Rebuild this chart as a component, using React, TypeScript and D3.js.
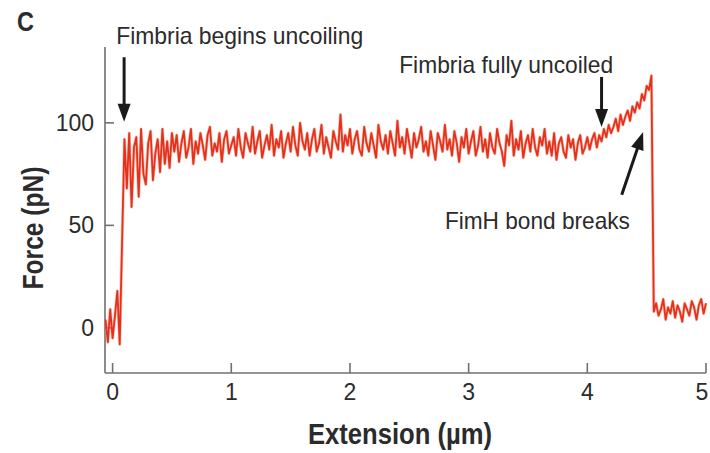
import * as d3 from 'd3'

const width = 710,
      height = 453

// force trace (pN), sampled every 0.02 µm starting at -0.06 µm
const traceStart = -0.06
const sampleStep = 0.02
const force = [
  4, -7, 9, -5, 6, 18, -8,
  42, 92,
  68, 95, 59, 88, 93, 64, 97, 75, 70, 90, 96, 72, 85, 92, 76, 97, 80, 91, 78, 95,
  86, 94, 81, 90, 96, 83, 88, 97, 80, 91, 85, 95, 89, 82, 94, 98, 84, 90, 86, 95, 81, 92, 96, 85, 89,
  93, 84, 97, 88, 83, 95, 90, 86, 98, 85,
  91, 96, 83, 89, 94, 87, 99, 84, 92, 88,
  96, 83, 90, 95, 86, 98, 89, 84, 100, 91,
  87, 95, 84, 92, 97, 86, 90, 99, 85, 93,
  88, 83, 96, 91, 87, 104, 86, 94, 89, 97,
  85, 92, 96, 87, 84, 98, 90, 86, 95, 89,
  83, 99, 91, 87, 94, 85, 96, 90, 84, 101,
  88, 93, 85, 97, 90, 83, 95, 88, 92, 98,
  86, 91, 84, 96, 89, 82, 95, 91, 86, 99,
  87, 92, 84, 96, 90, 81, 93, 88, 97, 85,
  91, 96, 84, 89, 98, 86, 92, 83, 95, 88,
  85, 97, 90, 86, 79, 94, 89, 101, 84, 92,
  87, 96, 83, 90, 94, 86, 97, 88, 84, 93,
  89, 97, 85, 91, 84, 95, 82, 90, 93, 86,
  83, 94, 88, 92, 82, 90, 94, 85, 88, 93,
  87, 92, 95, 88, 94, 91, 97, 93, 99, 95, 98, 102, 96, 104, 99, 103, 106, 101, 108, 105,
  110, 107, 114, 111, 118, 116, 123,
  8, 12, 6, 9, 14, 4, 10, 7, 13, 5, 11, 8, 3, 12, 9, 6, 13, 10, 4, 11, 14, 7, 12
]

const xTicks = [0, 1, 2, 3, 4, 5]
const yTicks = [0, 50, 100]

// annotation anchors in data units (µm, pN)
const annotations = [
  { label: 'Fimbria begins uncoiling', text: [0.03, 138.5], from: [0.097, 132], to: [0.097, 100.5], w: 247 },
  { label: 'Fimbria fully uncoiled', text: [2.415, 124.4], from: [4.12, 122.4], to: [4.12, 98], w: 214 },
  { label: 'FimH bond breaks', text: [2.80, 48.3], from: [4.29, 64.9], to: [4.47, 95.6], w: 185 }
]

const x = d3.scaleLinear().domain([-0.064, 5.0]).range([105, 706])
const y = d3.scaleLinear().domain([-22, 137]).range([373, 47])

const axisColor = '#707070'
const textColor = '#2b2b2b'
const font = '"Liberation Sans", Arial, sans-serif'

const trace = d3.line<number>()
  .x((d, i) => x(traceStart + i * sampleStep))
  .y(d => y(d))

function arrow(x1: number, y1: number, x2: number, y2: number) {
  const dx = x2 - x1, dy = y2 - y1, len = Math.hypot(dx, dy)
  const ux = dx / len, uy = dy / len
  const hl = 18, hw = 6.5
  const bx = x2 - ux * hl, by = y2 - uy * hl
  return {
    shaft: [x1, y1, bx + ux * 2, by + uy * 2],
    head: `M${x2},${y2}L${bx - uy * hw},${by + ux * hw}L${bx + uy * hw},${by - ux * hw}Z`
  }
}

export default function App() {
  const [x0, x1] = x.range()
  const [y0, y1] = y.range()
  const d = trace(force) ?? ''

  return (
    <svg width={width} height={height} style={{ position: 'absolute', left: 0, top: 0, background: '#fff' }}>
      <text x={17} y={31} fontFamily={font} fontWeight='bold' fontSize={28} fill={textColor}
        textLength={17} lengthAdjust='spacingAndGlyphs'>C</text>

      {/* axes */}
      <g stroke={axisColor} strokeWidth={1.6} fill='none'>
        <line x1={x0} y1={y0} x2={x1} y2={y0} />
        <line x1={x0} y1={y0} x2={x0} y2={y1} />
        {xTicks.map(t =>
          <line key={'xt' + t} x1={x(t)} x2={x(t)} y1={y0} y2={y0 - 10} />
        )}
        {yTicks.map(t =>
          <line key={'yt' + t} x1={x0} x2={x0 + 9} y1={y(t)} y2={y(t)} />
        )}
      </g>
      <g fontFamily={font} fontSize={23} fill={textColor}>
        {xTicks.map(t =>
          <text key={'xl' + t} x={Math.min(x(t), width - 8)} y={y0 + 27} textAnchor='middle'>{t}</text>
        )}
        {yTicks.map(t =>
          <text key={'yl' + t} x={x0 - 11} y={y(t) + 8} textAnchor='end'>{t}</text>
        )}
      </g>

      <text x={400} y={444} textAnchor='middle' fontFamily={font} fontWeight='bold' fontSize={30}
        fill={textColor} textLength={184} lengthAdjust='spacingAndGlyphs'>Extension (µm)</text>
      <text transform='translate(43,228) rotate(-90)' textAnchor='middle' fontFamily={font} fontWeight='bold'
        fontSize={30} fill={textColor} textLength={123} lengthAdjust='spacingAndGlyphs'>Force (pN)</text>

      {/* force trace */}
      <path d={d} fill='none' stroke='#f2876c' strokeOpacity={0.5} strokeWidth={3.2} strokeLinejoin='round' />
      <path d={d} fill='none' stroke='#e5301c' strokeWidth={1.8} strokeLinejoin='round' />

      {/* annotations */}
      {annotations.map(a => {
        const ar = arrow(x(a.from[0]), y(a.from[1]), x(a.to[0]), y(a.to[1]))
        return (
          <g key={a.label}>
            <text x={x(a.text[0])} y={y(a.text[1])} fontFamily={font} fontSize={24} fill={textColor}
              textLength={a.w} lengthAdjust='spacingAndGlyphs'>{a.label}</text>
            <line x1={ar.shaft[0]} y1={ar.shaft[1]} x2={ar.shaft[2]} y2={ar.shaft[3]} stroke='#1a1a1a' strokeWidth={3} />
            <path d={ar.head} fill='#1a1a1a' />
          </g>
        )
      })}
    </svg>
  )
}
